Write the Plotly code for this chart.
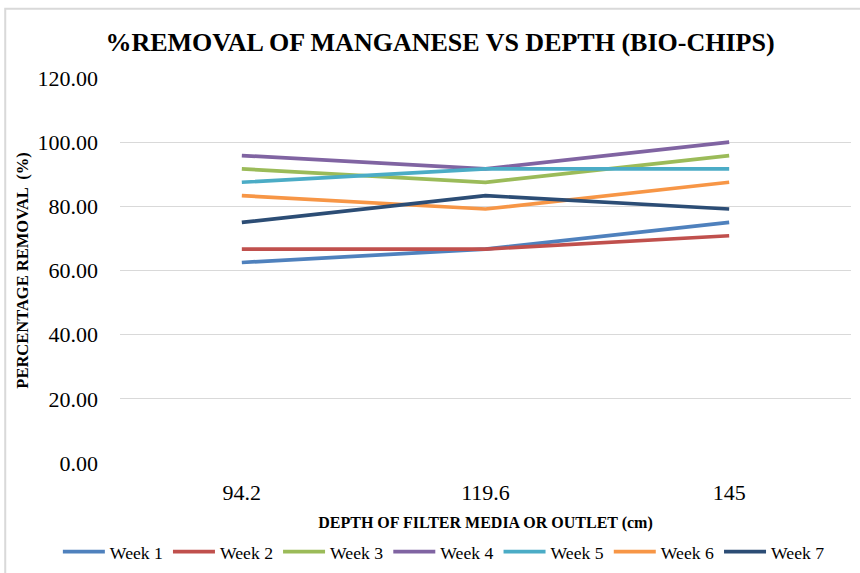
import plotly.graph_objects as go

# depth of filter media (cm) and % removal of manganese per week
depths = ["94.2", "119.6", "145"]
week_1 = [62.50, 66.67, 75.00]
week_2 = [66.67, 66.67, 70.83]
week_3 = [91.67, 87.50, 95.83]
week_4 = [95.83, 91.67, 100.00]
week_5 = [87.50, 91.67, 91.67]
week_6 = [83.33, 79.17, 87.50]
week_7 = [75.00, 83.33, 79.17]

weeks = ["Week 1", "Week 2", "Week 3", "Week 4", "Week 5", "Week 6", "Week 7"]
colors = ["#4F81BD", "#C0504D", "#9BBB59", "#8064A2", "#4BACC6", "#F79646", "#2C4D75"]
series = [week_1, week_2, week_3, week_4, week_5, week_6, week_7]

serif = "Liberation Serif"

fig = go.Figure()
for name, vals, col in zip(weeks, series, colors):
    fig.add_trace(go.Scatter(x=depths, y=vals, name=name, mode="lines",
                             line=dict(color=col, width=3.7)))

fig.update_layout(
    template="none",
    width=860, height=573,
    margin=dict(l=120, r=9, t=78, b=110, autoexpand=False),
    paper_bgcolor="white", plot_bgcolor="white",
    font=dict(family=serif, color="#000000"),
    title=dict(text="<b>%REMOVAL OF MANGANESE VS DEPTH (BIO-CHIPS)</b>",
               x=440 / 860, xanchor="center", y=1 - 42 / 573, yanchor="middle",
               font=dict(size=26, family=serif, color="#000000")),
    legend=dict(orientation="h", x=-0.085, xanchor="left",
                y=-0.2315, yanchor="middle",
                font=dict(size=17.7, family=serif),
                itemwidth=42, tracegroupgap=0),
    showlegend=True,
)

fig.update_xaxes(type="category", range=[-0.5, 2.5], showgrid=False,
                 showline=False, ticks="", tickfont=dict(size=22, family=serif),
                 ticklabelstandoff=14, automargin=False,
                 title=dict(text="DEPTH OF FILTER MEDIA OR OUTLET (cm)",
                            font=dict(size=16, family=serif, weight="bold"), standoff=12))
fig.update_yaxes(range=[0, 120], dtick=20, tickformat=".2f",
                 gridcolor="#D9D9D9", gridwidth=1.3, zeroline=False,
                 showline=False, ticks="", tickfont=dict(size=22, family=serif),
                 ticklabelstandoff=21, automargin=False,
                 title=dict(text="PERCENTAGE REMOVAL  (%)",
                            font=dict(size=16.5, family=serif, weight="bold"), standoff=4))

# light grey chart-area border
fig.add_shape(type="rect", xref="paper", yref="paper",
              x0=-0.157, x1=1.3, y0=-0.6, y1=1.18,
              line=dict(color="#D9D9D9", width=2), fillcolor="rgba(0,0,0,0)",
              layer="below")

# drop the default page margin so the figure sits at the window's corner
fig.write_html("out.html", config={"displayModeBar": False},
               post_script="document.body.style.margin='0';")
